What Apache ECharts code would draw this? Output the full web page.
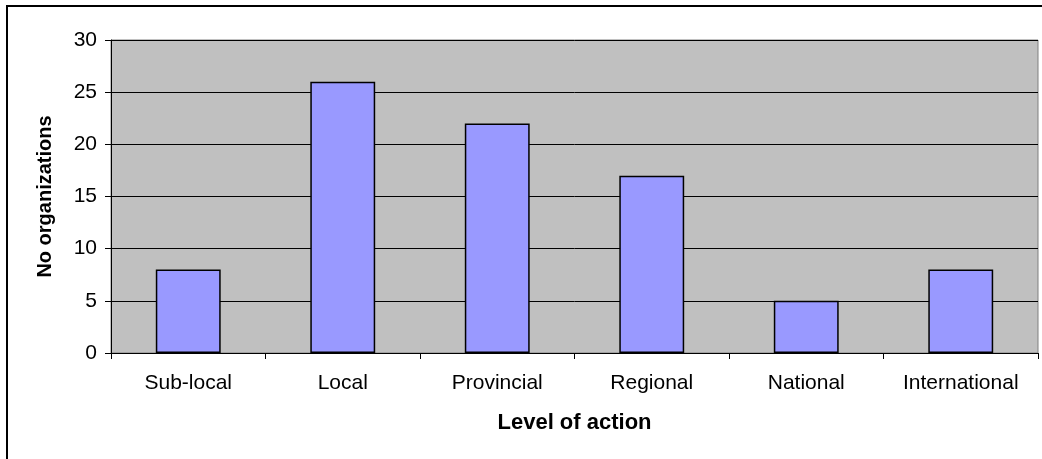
<!DOCTYPE html>
<html lang="en">
<head>
    <meta charset="UTF-8">
    <title>Level of action</title>
    <script src="https://cdn.jsdelivr.net/npm/echarts@6/dist/echarts.min.js"></script>
    <style>
        html, body { margin: 0; padding: 0; background: #fff; }
        #chart { width: 1042px; height: 459px; }
    </style>
</head>
<body>
    <div id="chart"></div>
</body>
<script type="text/javascript">
    var categories = ['Sub-local', 'Local', 'Provincial', 'Regional', 'National', 'International'];
    var counts = [8, 26, 22, 17, 5, 8];
    var yTicks = [0, 5, 10, 15, 20, 25, 30];

    var chartDom = document.getElementById('chart');
    var myChart = echarts.init(chartDom);
    var font = 'Liberation Sans, Arial, sans-serif';

    var option = {
        animation: false,
        graphic: [{
            type: 'rect',
            shape: { x: 7, y: 6, width: 1200, height: 600 },
            style: { fill: 'none', stroke: '#000', lineWidth: 2 },
            silent: true
        }],
        grid: {
            left: 111,
            right: 4,
            top: 40,
            bottom: 106,
            show: true,
            backgroundColor: '#c0c0c0',
            borderColor: '#808080',
            borderWidth: 1
        },
        xAxis: {
            type: 'category',
            data: categories,
            name: 'Level of action',
            nameLocation: 'middle',
            nameGap: 59,
            nameTextStyle: { fontFamily: font, fontSize: 22, fontWeight: 'bold', color: '#000' },
            axisLine: { lineStyle: { color: '#000', width: 1 } },
            axisTick: { show: true, alignWithLabel: false, length: 6, lineStyle: { color: '#000' } },
            axisLabel: { fontFamily: font, fontSize: 21, color: '#000', margin: 20 },
            splitLine: { show: false }
        },
        yAxis: {
            type: 'value',
            min: yTicks[0],
            max: yTicks[yTicks.length - 1],
            interval: 5,
            name: 'No organizations',
            nameLocation: 'middle',
            nameGap: 56,
            nameTextStyle: { fontFamily: font, fontSize: 20, fontWeight: 'bold', color: '#000' },
            axisLine: { show: true, lineStyle: { color: '#000', width: 1 } },
            axisTick: { show: true, length: 6, lineStyle: { color: '#000' } },
            axisLabel: { fontFamily: font, fontSize: 21, color: '#000', margin: 14 },
            splitLine: { show: true, lineStyle: { color: '#000', width: 1 } }
        },
        series: [{
            type: 'bar',
            data: counts,
            barCategoryGap: '58%',
            itemStyle: { color: '#9999ff', borderColor: '#000', borderWidth: 1.5 }
        }]
    };

    myChart.setOption(option);
</script>
</html>
